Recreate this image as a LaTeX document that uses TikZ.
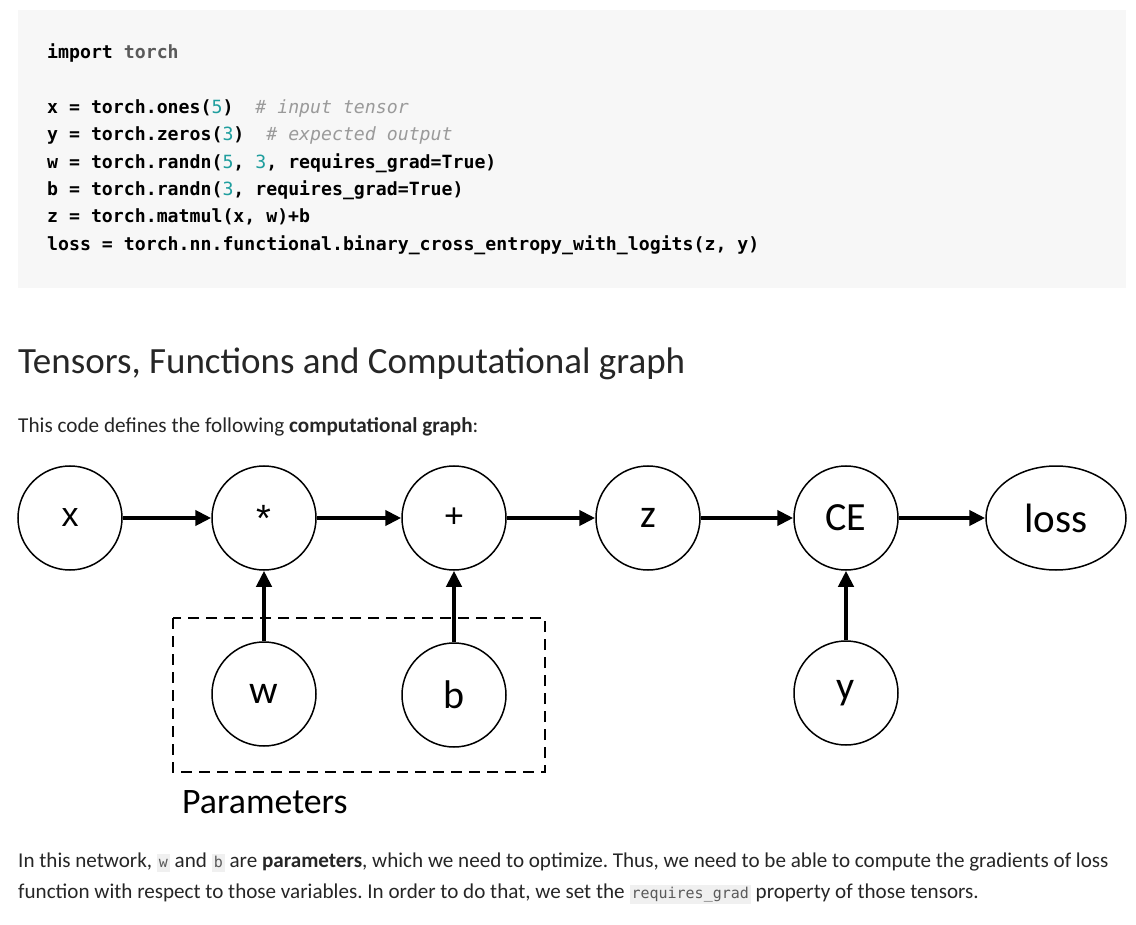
\documentclass[tikz,border=0pt]{standalone}
\usepackage{fontspec}
\setmainfont{Carlito}
\setmonofont{DejaVu Sans Mono}
\newfontfamily\arialfont{Liberation Sans}
\usetikzlibrary{arrows.meta}
\usetikzlibrary{shapes.geometric}
\definecolor{codebg}{HTML}{F7F7F7}
\definecolor{inlinebg}{HTML}{F0F0F0}
\definecolor{numteal}{HTML}{1F9E9E}
\definecolor{cmtgray}{HTML}{9A9A9A}
\definecolor{modgray}{HTML}{5A5A5A}
\definecolor{bodytext}{HTML}{262626}
\newcommand{\codenum}[1]{{\mdseries\color{numteal}#1}}
\newcommand{\cmt}[1]{{\mdseries\itshape\color{cmtgray}#1}}
\newcommand{\icode}[1]{{\setlength{\fboxsep}{2pt}\colorbox{inlinebg}{\ttfamily\fontsize{15}{15}\selectfont\color{modgray}\vphantom{Ag}#1}}}
\tikzset{textline/.style={anchor=base west,inner sep=0pt,text=bodytext}}
\tikzset{codeline/.style={anchor=base west,inner sep=0pt,font=\ttfamily\bfseries\fontsize{18.2}{20}\selectfont}}
\tikzset{var/.style={circle,draw,line width=1.5pt,minimum size=104pt,inner sep=0pt,font=\fontsize{40}{40}\selectfont}}
\tikzset{op/.style={var,font=\arialfont\fontsize{34}{34}\selectfont}}
\tikzset{flow/.style={-{Triangle[length=16pt,width=15pt]},line width=4.5pt}}
\tikzset{paramsbox/.style={draw,line width=1.5pt,dash pattern=on 11pt off 7pt}}

\begin{document}
\frenchspacing
\begin{tikzpicture}[x=1pt,y=-1pt]
    \useasboundingbox[fill=white] (0,0) rectangle (1136,925);
    % code block
    \fill[codebg] (18,10) rectangle (1126,288);
    \node[codeline] (c0) at (47,58.5) {import {\color{modgray}torch}};
    \node[codeline] (c1) at (47,113.5) {x = torch.ones(\codenum{5})~~\cmt{\# input tensor}};
    \node[codeline] (c2) at (47,141) {y = torch.zeros(\codenum{3})~~\cmt{\# expected output}};
    \node[codeline] (c3) at (47,168.3) {w = torch.randn(\codenum{5}, \codenum{3}, requires\_grad=True)};
    \node[codeline] (c4) at (47,195.6) {b = torch.randn(\codenum{3}, requires\_grad=True)};
    \node[codeline] (c5) at (47,223) {z = torch.matmul(x, w)+b};
    \node[codeline] (c6) at (47,250.3) {loss = torch.nn.functional.binary\_cross\_entropy\_with\_logits(z, y)};
    % heading and text
    \node[textline,font=\fontsize{37}{37}\selectfont] (title) at (18,374) {Tensors, Functions and Computational graph};
    \node[textline,font=\fontsize{21.2}{22}\selectfont] (intro) at (18,432) {This code defines the following \textbf{computational graph}:};
    % graph
    \node[op] (x) at (70,518) {x};
    \node[op,font=\arialfont\fontsize{38}{38}\selectfont] (mul) at (264,518) {*};
    \node[op] (add) at (454,518) {+};
    \node[var] (z) at (648,518) {z};
    \node[var] (CE) at (846,518) {CE};
    \node[var,ellipse,minimum width=140pt,minimum height=104pt,font=\fontsize{41}{41}\selectfont] (loss) at (1056,518) {loss};
    \node[var] (w) at (264,694) {w};
    \node[var] (b) at (454,695) {b};
    \node[var] (y) at (846,693) {y};
    \draw[paramsbox] (173,618) rectangle (545,772);
    \node[textline,text=black,font=\fontsize{35.8}{36}\selectfont] (params) at (182,813) {Parameters};
    \draw[flow] (x) -- (mul);
    \draw[flow] (mul) -- (add);
    \draw[flow] (add) -- (z);
    \draw[flow] (z) -- (CE);
    \draw[flow] (CE) -- (loss);
    \draw[flow] (w) -- (mul);
    \draw[flow] (b) -- (add);
    \draw[flow] (y) -- (CE);
    % closing text
    \node[textline,font=\fontsize{21.1}{22}\selectfont] (para1) at (18,867) {In this network, \icode{w} and \icode{b} are \textbf{parameters}, which we need to optimize. Thus, we need to be able to compute the gradients of loss};
    \node[textline,font=\fontsize{21.1}{22}\selectfont] (para2) at (18,898) {function with respect to those variables. In order to do that, we set the \icode{requires\_grad} property of those tensors.};
\end{tikzpicture}
\end{document}
